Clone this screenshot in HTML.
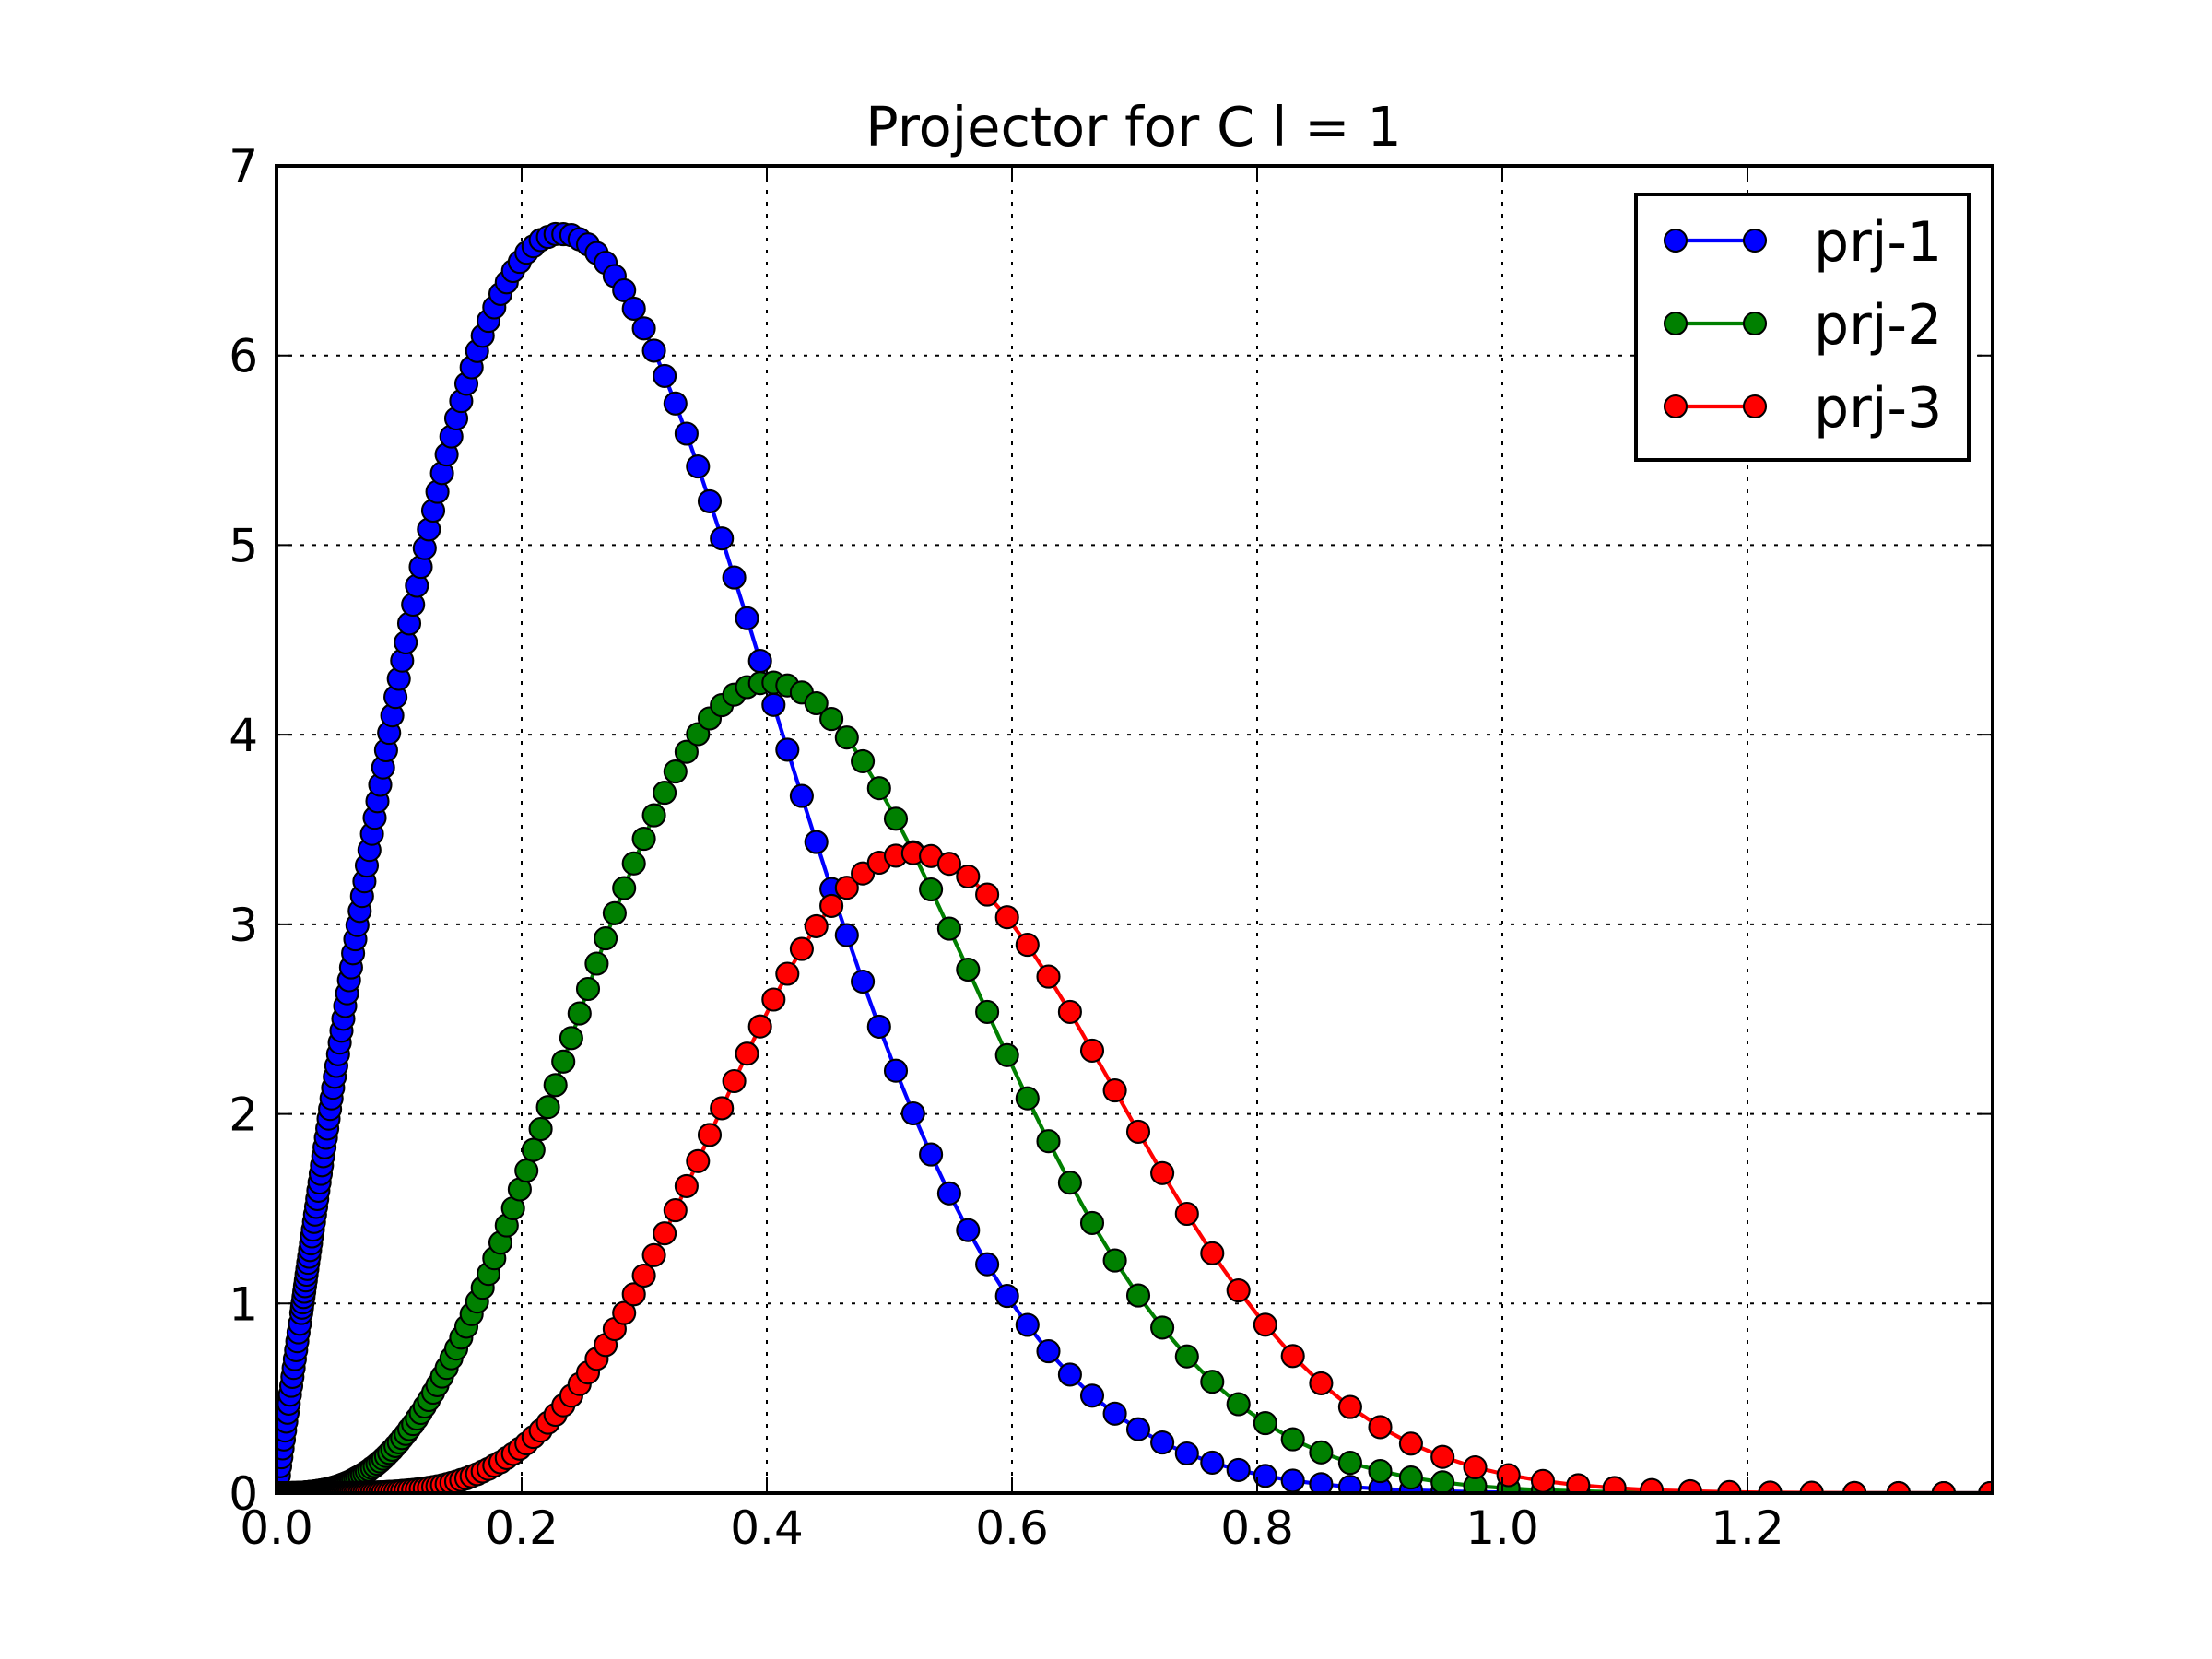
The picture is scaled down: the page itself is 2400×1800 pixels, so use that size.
<!DOCTYPE html>
<html>
<head>
<meta charset="utf-8">
<style>
  html,body{margin:0;padding:0;background:#fff;}
  #fig{width:2400px;height:1800px;display:block;}
  text{font-family:"DejaVu Sans","Liberation Sans",sans-serif;fill:#000;}
</style>
</head>
<body>
<svg id="fig" xmlns="http://www.w3.org/2000/svg" width="2400" height="1800" viewBox="0 0 2400 1800">
  <rect x="0" y="0" width="2400" height="1800" fill="#fff"/>
  <defs>
    <clipPath id="plotclip"><rect x="300" y="180" width="1862" height="1440"/></clipPath>
  </defs>
  <g id="grid"></g>
  <g id="series" clip-path="url(#plotclip)"></g>
  <g id="axes"></g>
  <text x="1230" y="158" font-size="59" text-anchor="middle">Projector for C l = 1</text>
  <g id="legend"></g>
</svg>
<script>
const xs = [0.001,0.003,0.006,0.010,0.015,
0.0202,0.0214,0.0226,0.0239,0.0252,0.0266,0.0281,0.0297,0.0314,0.0332,0.0351,0.0371,0.0392,0.0414,0.0437,0.0462,0.0488,0.0516,0.0545,0.0576,0.0608,0.0643,0.0679,0.0717,0.0758,0.0801,0.0846,0.0894,0.0944,0.0998,0.1054,0.1114,0.1177,0.1243,0.1313,0.1388,0.1466,0.1549,0.1637,0.1729,0.1827,0.1930,0.2039,0.2155,0.2276,0.2405,0.2541,0.2685,0.2836,0.2997,
0.3080,0.3166,0.3254,0.3345,0.3438,0.3534,0.3633,0.3734,0.3838,0.3945,0.4055,0.4168,0.4285,0.4404,0.4527,0.4653,0.4783,0.4916,0.5053,0.5194,0.5339,0.5488,0.5641,0.5798,0.5960,0.6126,0.6297,0.6473,0.6654,0.6839,0.7030,0.7226,0.7427,0.7634,0.7847,0.8066,0.8291,0.8522,0.8759,0.9004,0.9255,0.9513,0.9778,1.0050,1.0331,1.0619,1.0915,1.1219,1.1532,1.1853,1.2184,1.2524,1.2873,1.3232,1.3601,1.3980];
const xsExtra = [0.0208,0.0220,0.0232,0.0245,0.0259,0.0274,0.0289,0.0306,0.0323,0.0341,0.0361,0.0381,0.0403,0.0425,0.0449,0.0475,0.0502,0.0530,0.0560,0.0592,0.0625,0.0660,0.0698,0.0737,0.0779,0.0823,0.0870,0.0919,0.0971,0.1025,0.1083,0.1145,0.1209,0.1278,0.1350,0.1426,0.1507,0.1592,0.1682,0.1777,0.1878,0.1984,0.2096,0.2215,0.2340,0.2472,0.2612,0.2759,0.2915,
0.0005,0.002,0.004,0.005,0.007,0.008,0.009,0.011,0.012,0.013,0.014,0.016,0.017,0.018,0.019];

const prj1 = [0.047,0.142,0.283,0.472,0.707,
0.950,1.006,1.062,1.122,1.182,1.247,1.317,1.390,1.469,1.551,1.638,1.729,1.824,1.923,2.026,2.138,2.253,2.376,2.502,2.636,2.773,2.921,3.071,3.227,3.392,3.562,3.736,3.918,4.102,4.295,4.487,4.686,4.885,5.083,5.281,5.478,5.668,5.851,6.024,6.183,6.325,6.446,6.542,6.609,6.641,6.635,6.586,6.489,6.344,6.143,
6.026,5.892,5.747,5.588,5.415,5.231,5.035,4.829,4.614,4.389,4.157,3.921,3.677,3.434,3.186,2.943,2.698,2.460,2.228,2.003,1.786,1.581,1.387,1.207,1.040,0.887,0.748,0.625,0.514,0.419,0.337,0.267,0.209,0.161,0.122,0.091,0.066,0.047,0.033,0.023,0.015,0.010,0.006,0.004,0.002,0.001,0.001,0,0,0,0,0,0,0,0,0];
const prj1Extra = [0.978,1.034,1.092,1.152,1.215,1.282,1.354,1.430,1.510,1.595,1.684,1.777,1.874,1.975,2.082,2.196,2.315,2.439,2.569,2.705,2.847,2.996,3.149,3.310,3.477,3.649,3.827,4.010,4.199,4.391,4.587,4.786,4.984,5.182,5.380,5.573,5.760,5.938,6.104,6.254,6.386,6.494,6.576,6.625,6.640,6.613,6.540,6.419,6.247,
0.024,0.094,0.189,0.236,0.330,0.377,0.424,0.519,0.566,0.613,0.660,0.754,0.801,0.848,0.893];

const prj2 = [0,0,0,0,0.001,
0.002,0.003,0.003,0.004,0.005,0.006,0.007,0.008,0.009,0.011,0.013,0.015,0.018,0.021,0.024,0.029,0.034,0.040,0.047,0.055,0.064,0.076,0.089,0.104,0.122,0.143,0.167,0.196,0.229,0.268,0.312,0.364,0.423,0.491,0.569,0.660,0.762,0.878,1.010,1.156,1.321,1.502,1.701,1.920,2.152,2.400,2.659,2.926,3.191,3.451,
3.575,3.694,3.806,3.910,4.003,4.086,4.156,4.211,4.251,4.272,4.275,4.260,4.223,4.166,4.083,3.985,3.860,3.718,3.557,3.380,3.184,2.977,2.761,2.538,2.310,2.082,1.856,1.637,1.425,1.227,1.042,0.873,0.721,0.587,0.469,0.369,0.284,0.215,0.160,0.116,0.082,0.057,0.038,0.025,0.016,0.010,0.006,0.004,0.002,0.001,0.001,0,0,0,0,0];
const prj2Extra = [0.0025,0.003,0.0035,0.0045,0.0055,0.0065,0.0075,0.0085,0.010,0.012,0.014,0.0165,0.0195,0.0225,0.0265,0.0315,0.037,0.0435,0.051,0.0595,0.070,0.0825,0.0965,0.113,0.1325,0.155,0.1815,0.2125,0.2485,0.290,0.338,0.3935,0.457,0.530,0.6145,0.711,0.820,0.944,1.083,1.2385,1.4115,1.6015,1.8105,2.036,2.276,2.5295,2.7925,3.0585,3.321,
0,0,0,0,0,0,0,0,0.001,0.001,0.001,0.001,0.001,0.002,0.002];

const prj3 = [0,0,0,0,0,
0,0,0,0,0,0,0,0,0,0,0,0,0.0001,0.0001,0.0001,0.0002,0.0003,0.0004,0.0005,0.0007,0.0009,0.0012,0.0015,0.0020,0.0026,0.0034,0.0044,0.0058,0.0075,0.0099,0.013,0.017,0.022,0.028,0.036,0.047,0.061,0.078,0.100,0.128,0.163,0.207,0.262,0.330,0.413,0.514,0.636,0.781,0.950,1.147,
1.255,1.370,1.492,1.619,1.751,1.889,2.030,2.173,2.318,2.461,2.603,2.739,2.870,2.990,3.097,3.193,3.268,3.325,3.362,3.375,3.360,3.319,3.252,3.157,3.037,2.892,2.724,2.538,2.334,2.124,1.906,1.688,1.473,1.265,1.069,0.888,0.723,0.579,0.454,0.348,0.261,0.191,0.136,0.095,0.064,0.042,0.027,0.016,0.010,0.006,0.003,0.002,0.001,0.0004,0.0002,0.0001];
const prj3Extra = [0,0,0,0,0,0,0,0,0,0,0,0.00005,0.0001,0.0001,0.00015,0.00025,0.00035,0.00045,0.0006,0.0008,0.00105,0.00135,0.00175,0.0023,0.003,0.0039,0.0051,0.00665,0.0087,0.0115,0.015,0.0195,0.025,0.032,0.0415,0.054,0.0695,0.089,0.114,0.1455,0.185,0.2345,0.296,0.3715,0.4635,0.575,0.7085,0.8655,1.0485,
0,0,0,0,0,0,0,0,0,0,0,0,0,0,0];

const seriesNames = ["prj-1","prj-2","prj-3"];
const seriesColors = ["#0000ff","#008000","#ff0000"];
const xTicks = [0.0,0.2,0.4,0.6,0.8,1.0,1.2];
const xTickLabels = ["0.0","0.2","0.4","0.6","0.8","1.0","1.2"];
const yTicks = [0,1,2,3,4,5,6,7];
const yTickLabels = ["0","1","2","3","4","5","6","7"];

const L=300,R=2162,T=180,B=1620,XMIN=0,XMAX=1.4,YMIN=0,YMAX=7;
function sx(v){return L+(v-XMIN)/(XMAX-XMIN)*(R-L);}
function sy(v){return B-(v-YMIN)/(YMAX-YMIN)*(B-T);}
const NS="http://www.w3.org/2000/svg";
function mk(tag,attrs,parent){const e=document.createElementNS(NS,tag);for(const k in attrs)e.setAttribute(k,attrs[k]);parent.appendChild(e);return e;}

const grid=document.getElementById('grid');
xTicks.forEach((t)=>{
  const ln=mk('line',{x1:sx(t),y1:T,x2:sx(t),y2:B,stroke:'#000','stroke-width':2,'stroke-dasharray':'4 9'},grid);
  
  
});
yTicks.forEach((t)=>{
  const ln=mk('line',{x1:L,y1:sy(t),x2:R,y2:sy(t),stroke:'#000','stroke-width':2,'stroke-dasharray':'4 9'},grid);
  
  
});

const sg=document.getElementById('series');
const allX = xs.concat(xsExtra);
const allSeries=[prj1.concat(prj1Extra),prj2.concat(prj2Extra),prj3.concat(prj3Extra)];
const order = allX.map((x,i)=>i).sort((a,b)=>allX[a]-allX[b]);
allSeries.forEach((ys,si)=>{
  const g=mk('g',{},sg);
  
  
  const pts=order.map(i=>sx(allX[i]).toFixed(1)+','+sy(ys[i]).toFixed(1)).join(' ');
  const pl=mk('polyline',{points:pts,fill:'none',stroke:seriesColors[si],'stroke-width':4.2,'stroke-linejoin':'round'},g);
  
  
  order.forEach(i=>{
    const c=mk('circle',{cx:sx(allX[i]).toFixed(1),cy:sy(ys[i]).toFixed(1),r:12,fill:seriesColors[si],stroke:'#000','stroke-width':2.1},g);
    
    
  });
});

const ax=document.getElementById('axes');
const frame=mk('rect',{x:L,y:T,width:R-L,height:B-T,fill:'none',stroke:'#000','stroke-width':4},ax);


xTicks.forEach((t,i)=>{
  const x=sx(t);
  const a=mk('line',{x1:x,y1:B,x2:x,y2:B-17,stroke:'#000','stroke-width':2},ax);
  
  
  const b=mk('line',{x1:x,y1:T,x2:x,y2:T+17,stroke:'#000','stroke-width':2},ax);
  
  
  const tx=mk('text',{x:x,y:1675,'font-size':50,'text-anchor':'middle'},ax);
  tx.textContent=xTickLabels[i];
  
  
});
yTicks.forEach((t,i)=>{
  const y=sy(t);
  const a=mk('line',{x1:L,y1:y,x2:L+17,y2:y,stroke:'#000','stroke-width':2},ax);
  
  
  const b=mk('line',{x1:R,y1:y,x2:R-17,y2:y,stroke:'#000','stroke-width':2},ax);
  
  
  const tx=mk('text',{x:280,y:y+18,'font-size':50,'text-anchor':'end'},ax);
  tx.textContent=yTickLabels[i];
  
  
});

const lg=document.getElementById('legend');
const box=mk('rect',{x:1775,y:211,width:361,height:288,fill:'#fff',stroke:'#000','stroke-width':4},lg);


const rowY=[261,351,441];
seriesNames.forEach((n,i)=>{
  const g=mk('g',{},lg);
  
  
  mk('line',{x1:1818,y1:rowY[i],x2:1904,y2:rowY[i],stroke:seriesColors[i],'stroke-width':4.2},g);
  mk('circle',{cx:1818,cy:rowY[i],r:12,fill:seriesColors[i],stroke:'#000','stroke-width':2.1},g);
  mk('circle',{cx:1904,cy:rowY[i],r:12,fill:seriesColors[i],stroke:'#000','stroke-width':2.1},g);
  const t=mk('text',{x:1968,y:rowY[i]+22,'font-size':60},g);
  t.textContent=n;
  
  
});
</script>
</body>
</html>
